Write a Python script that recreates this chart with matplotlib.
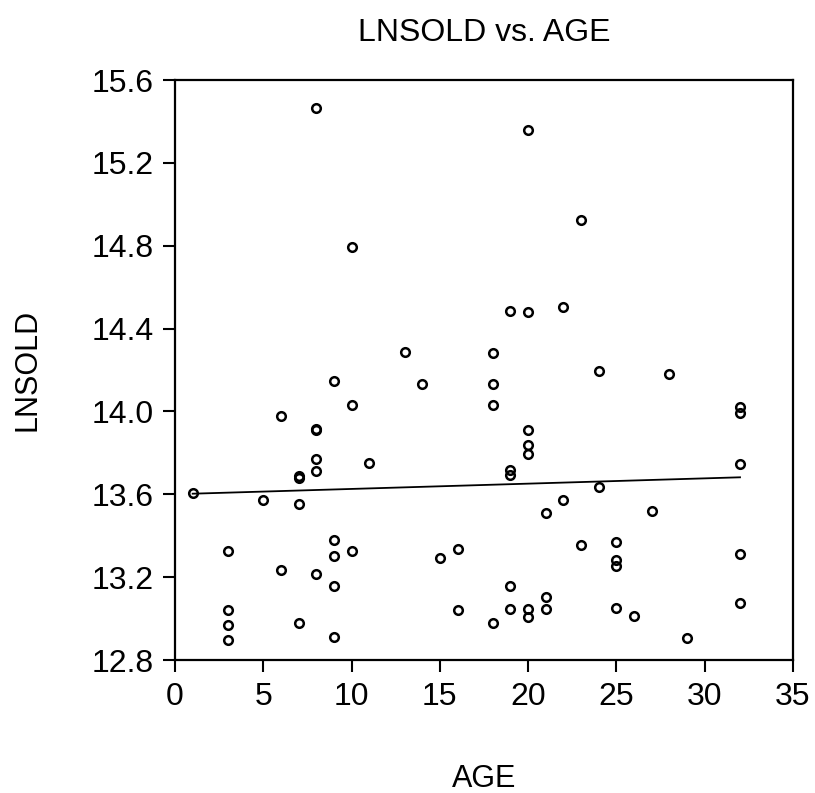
import numpy as np
import matplotlib
matplotlib.use("Agg")
import matplotlib.pyplot as plt

plt.rcParams['font.family'] = ['Liberation Sans', 'DejaVu Sans']

age = [1, 3, 3, 3, 3, 5, 6, 6, 7, 7, 7, 7,
       8, 8, 8, 8, 8, 8, 9, 9, 9, 9, 9, 10, 10, 10,
       11, 13, 14, 15, 16, 16, 18, 18, 18, 18, 19, 19, 19, 19, 19,
       20, 20, 20, 20, 20, 20, 20, 21, 21, 21, 22, 22, 23, 23,
       24, 24, 25, 25, 25, 25, 26, 27, 28, 29, 32, 32, 32, 32, 32]
lnsold = [13.607, 13.326, 13.041, 12.968, 12.896, 13.573, 13.976, 13.236,
          13.690, 13.680, 13.554, 12.979,
          15.467, 13.917, 13.908, 13.771, 13.711, 13.215,
          14.147, 13.379, 13.303, 13.157, 12.912,
          14.795, 14.031, 13.326,
          13.750, 14.287, 14.131, 13.292, 13.336, 13.041,
          14.284, 14.131, 14.031, 12.979,
          14.485, 13.718, 13.695, 13.158, 13.047,
          15.360, 14.480, 13.908, 13.836, 13.795, 13.046, 13.008,
          13.510, 13.102, 13.047,
          14.505, 13.573,
          14.924, 13.355,
          14.194, 13.634,
          13.371, 13.284, 13.255, 13.053,
          13.012, 13.521, 14.182, 12.908,
          14.021, 13.992, 13.747, 13.312, 13.076]

x_ticks = [0, 5, 10, 15, 20, 25, 30, 35]
y_ticks = [12.8, 13.2, 13.6, 14.0, 14.4, 14.8, 15.2, 15.6]

fig = plt.figure(figsize=(8.15, 7.93), dpi=100)
ax = fig.add_axes([175/815, 1-660/793, (793-175)/815, (660-80)/793])

ax.plot(age, lnsold, linestyle='none', marker='o', markersize=6.2,
        markerfacecolor='none', markeredgecolor='black', markeredgewidth=1.8)

slope, intercept = np.polyfit(age, lnsold, 1)
xs = np.array([min(age), max(age)])
ax.plot(xs, intercept + slope * xs, color='black', linewidth=1.3)

ax.set_xlim(0, 35)
ax.set_ylim(12.8, 15.6)
ax.set_xticks(x_ticks)
ax.set_yticks(y_ticks)
ax.set_yticklabels([f"{v:.1f}" for v in y_ticks])
ax.tick_params(direction='out', length=8.5, width=1.5, labelsize=23,
               top=False, right=False)
ax.tick_params(axis='x', pad=7)
ax.tick_params(axis='y', pad=7)
for s in ax.spines.values():
    s.set_linewidth(1.6)

ax.set_xlabel('AGE', fontsize=22, labelpad=38)
ax.set_ylabel('LNSOLD', fontsize=22, labelpad=35)
fig.text(484/815, 1-33/793, 'LNSOLD vs. AGE', fontsize=23,
         ha='center', va='center')

fig.savefig('out.png', dpi=100)
